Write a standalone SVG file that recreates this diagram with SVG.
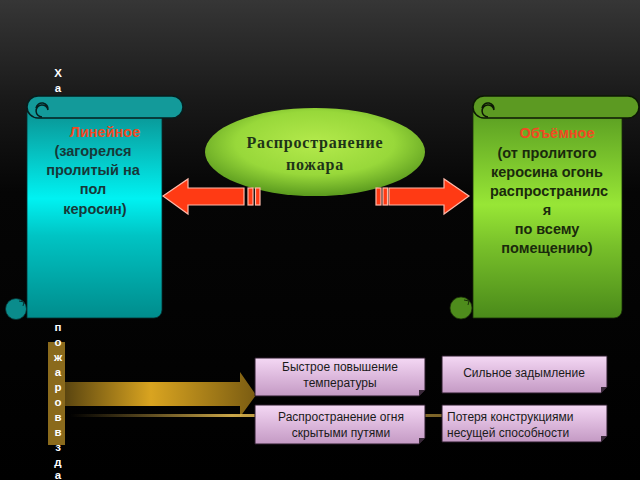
<svg xmlns="http://www.w3.org/2000/svg" width="640" height="480" viewBox="0 0 640 480">
<defs>
<linearGradient id="bg" x1="0" y1="0" x2="0" y2="1">
<stop offset="0" stop-color="#363636"/><stop offset="0.2" stop-color="#1a1a1a"/><stop offset="0.4" stop-color="#050505"/><stop offset="1" stop-color="#000"/>
</linearGradient>
<linearGradient id="teal" x1="0" y1="0" x2="0" y2="1">
<stop offset="0" stop-color="#0a9494"/><stop offset="0.42" stop-color="#00f2f2"/><stop offset="0.6" stop-color="#00c4c4"/><stop offset="1" stop-color="#008c8c"/>
</linearGradient>
<linearGradient id="green" x1="0" y1="0" x2="0" y2="1">
<stop offset="0" stop-color="#5a9e22"/><stop offset="0.45" stop-color="#98e636"/><stop offset="0.65" stop-color="#78c02a"/><stop offset="1" stop-color="#4a8a1a"/>
</linearGradient>
<radialGradient id="ell" cx="0.5" cy="0.4" r="0.6">
<stop offset="0" stop-color="#b4ea4c"/><stop offset="0.6" stop-color="#98d83a"/><stop offset="1" stop-color="#5a9a1e"/>
</radialGradient>
<linearGradient id="gold" x1="0" y1="0" x2="1" y2="0">
<stop offset="0" stop-color="#5a4510"/><stop offset="0.45" stop-color="#d9a420"/><stop offset="1" stop-color="#7a5c12"/>
</linearGradient>
<linearGradient id="goldline" x1="0" y1="0" x2="1" y2="0">
<stop offset="0" stop-color="#c8a040" stop-opacity="0"/><stop offset="0.3" stop-color="#e0b850" stop-opacity="0.9"/><stop offset="0.7" stop-color="#c8a040" stop-opacity="0.6"/><stop offset="1" stop-color="#c8a040" stop-opacity="0"/>
</linearGradient>
<linearGradient id="pink" x1="0" y1="0" x2="0" y2="1">
<stop offset="0" stop-color="#f4d8f4"/><stop offset="0.5" stop-color="#dcb8dc"/><stop offset="1" stop-color="#c49ac4"/>
</linearGradient>
<style>
.t{font-family:"Liberation Sans",Arial,sans-serif;font-weight:bold;font-size:14.5px;text-anchor:middle}
.red{fill:#f04a22}
.dl{fill:#173838}
.dg{fill:#1a2a0c}
.v{font-family:"Liberation Sans",Arial,sans-serif;font-weight:bold;font-size:11.5px;fill:#fff;text-anchor:middle}
.b{font-family:"Liberation Sans",Arial,sans-serif;font-size:12px;fill:#1a1a1a;text-anchor:middle}
.bs{font-family:"Liberation Sans",Arial,sans-serif;font-size:12px;fill:#1a1a1a;text-anchor:start}
.box{fill:url(#pink);stroke:#2a1a2a;stroke-width:1}
.arr{fill:#ff3a14;stroke:#ffb8a8;stroke-width:1.2}
.roll{stroke:#061e1e;stroke-width:1.5}
</style>
</defs>
<rect width="640" height="480" fill="url(#bg)"/>

<g id="title-vertical">
<text class="v" x="58" y="77">Х</text>
<text class="v" x="58" y="92">а</text>
</g>

<g id="scroll-linear">
<path d="M27,112 H162 V310 A8,8 0 0 1 154,318 H27 Z" fill="url(#teal)" stroke="#063030" stroke-width="0.8"/>
<circle cx="16" cy="309" r="10.5" fill="#0a8c8c" stroke="#063030" stroke-width="0.8"/>
<path d="M19,301 L24,302 L23,306" fill="none" stroke="#063030" stroke-width="1"/>
<path d="M38,96 H172 A11,11 0 0 1 172,118 H38 A11,11 0 0 1 38,96 Z" fill="#139a9a" class="roll"/>
<path d="M48,110 A6,6 0 1 0 42,117 M48,110 A6,6 0 0 0 36,108" fill="none" stroke="#061e1e" stroke-width="1.5"/>
<text class="t red" x="105" y="137">Линейное</text>
<text class="t dl" x="93" y="156">(загорелся</text>
<text class="t dl" x="93" y="175">пролитый на</text>
<text class="t dl" x="93" y="194">пол</text>
<text class="t dl" x="95" y="214"> керосин)</text>
</g>

<g id="scroll-volume">
<path d="M473,112 H622 V310 A8,8 0 0 1 614,318 H473 Z" fill="url(#green)" stroke="#1a3008" stroke-width="0.8"/>
<circle cx="461" cy="308" r="11" fill="#4e8c1c" stroke="#1a3008" stroke-width="0.8"/>
<path d="M464,300 L469,301 L468,305" fill="none" stroke="#1a3008" stroke-width="1"/>
<path d="M484,96 H628 A11,11 0 0 1 628,118 H484 A11,11 0 0 1 484,96 Z" fill="#5c9a22" stroke="#0c1804" stroke-width="1.5"/>
<path d="M494,110 A6,6 0 1 0 488,117 M494,110 A6,6 0 0 0 482,108" fill="none" stroke="#0c1804" stroke-width="1.5"/>
<text class="t red" x="557" y="138">Объёмное</text>
<text class="t dg" x="547" y="158">(от пролитого</text>
<text class="t dg" x="547" y="177">керосина огонь</text>
<text class="t dg" x="549" y="196">распространилс</text>
<text class="t dg" x="547" y="215">я</text>
<text class="t dg" x="547" y="234">по всему</text>
<text class="t dg" x="547" y="253">помещению)</text>
</g>

<g id="center-ellipse">
<ellipse cx="315" cy="152" rx="110" ry="44" fill="url(#ell)"/>
<text x="315" y="148" text-anchor="middle" font-family="'Liberation Serif','Times New Roman',serif" font-weight="bold" font-size="16" letter-spacing="0.8" fill="#1e3418">Распространение</text>
<text x="315" y="170" text-anchor="middle" font-family="'Liberation Serif','Times New Roman',serif" font-weight="bold" font-size="16" letter-spacing="0.8" fill="#1e3418">пожара</text>
</g>

<g id="character-arrow">
<rect x="48" y="342" width="17" height="103" fill="#8a6a1c"/>
<path d="M65,382 H240 V372 L256,395 L240,417 V406 H65 Z" fill="url(#gold)"/>
<rect x="70" y="414" width="540" height="3" fill="url(#goldline)"/>
<text class="v" x="58" y="331">п</text>
<text class="v" x="58" y="346">о</text>
<text class="v" x="58" y="361">ж</text>
<text class="v" x="58" y="376">а</text>
<text class="v" x="58" y="391">р</text>
<text class="v" x="58" y="406">о</text>
<text class="v" x="58" y="421">в</text>
<text class="v" x="58" y="436">в</text>
<text class="v" x="58" y="451">з</text>
<text class="v" x="58" y="466">д</text>
<text class="v" x="58" y="479">а</text>
</g>

<g id="connectors">
<path class="arr" d="M163,196 L188,179 V188 H244 V205 H188 V214 Z"/>
<rect class="arr" x="248" y="188" width="5" height="17"/>
<rect class="arr" x="255.5" y="188" width="4.5" height="17"/>
<path class="arr" d="M469,196 L444,179 V188 H389 V205 H444 V214 Z"/>
<rect class="arr" x="383" y="188" width="4.5" height="17"/>
<rect class="arr" x="376" y="188" width="5" height="17"/>
</g>

<g id="box-temp">
<path class="box" d="M255,358 H425 V390 L419,396 H255 Z"/>
<path d="M425,390 L419,396 L419,390 Z" fill="#3a2a3a"/>
<text class="b" x="340" y="371">Быстрое повышение</text>
<text class="b" x="340" y="387">температуры</text>
</g>
<g id="box-smoke">
<path class="box" d="M442,356 H607 V387 L601,393 H442 Z"/>
<path d="M607,387 L601,393 L601,387 Z" fill="#3a2a3a"/>
<text class="b" x="524" y="377">Сильное задымление</text>
</g>
<g id="box-hidden">
<path class="box" d="M255,405 H425 V438 L419,444 H255 Z"/>
<path d="M425,438 L419,444 L419,438 Z" fill="#3a2a3a"/>
<text class="b" x="341" y="421">Распространение огня</text>
<text class="b" x="341" y="437">скрытыми  путями</text>
</g>
<g id="box-load">
<path class="box" d="M442,405 H607 V436 L601,442 H442 Z"/>
<path d="M607,436 L601,442 L601,436 Z" fill="#3a2a3a"/>
<text class="bs" x="447" y="421">Потеря конструкциями</text>
<text class="bs" x="447" y="437">несущей способности</text>
</g>
</svg>
